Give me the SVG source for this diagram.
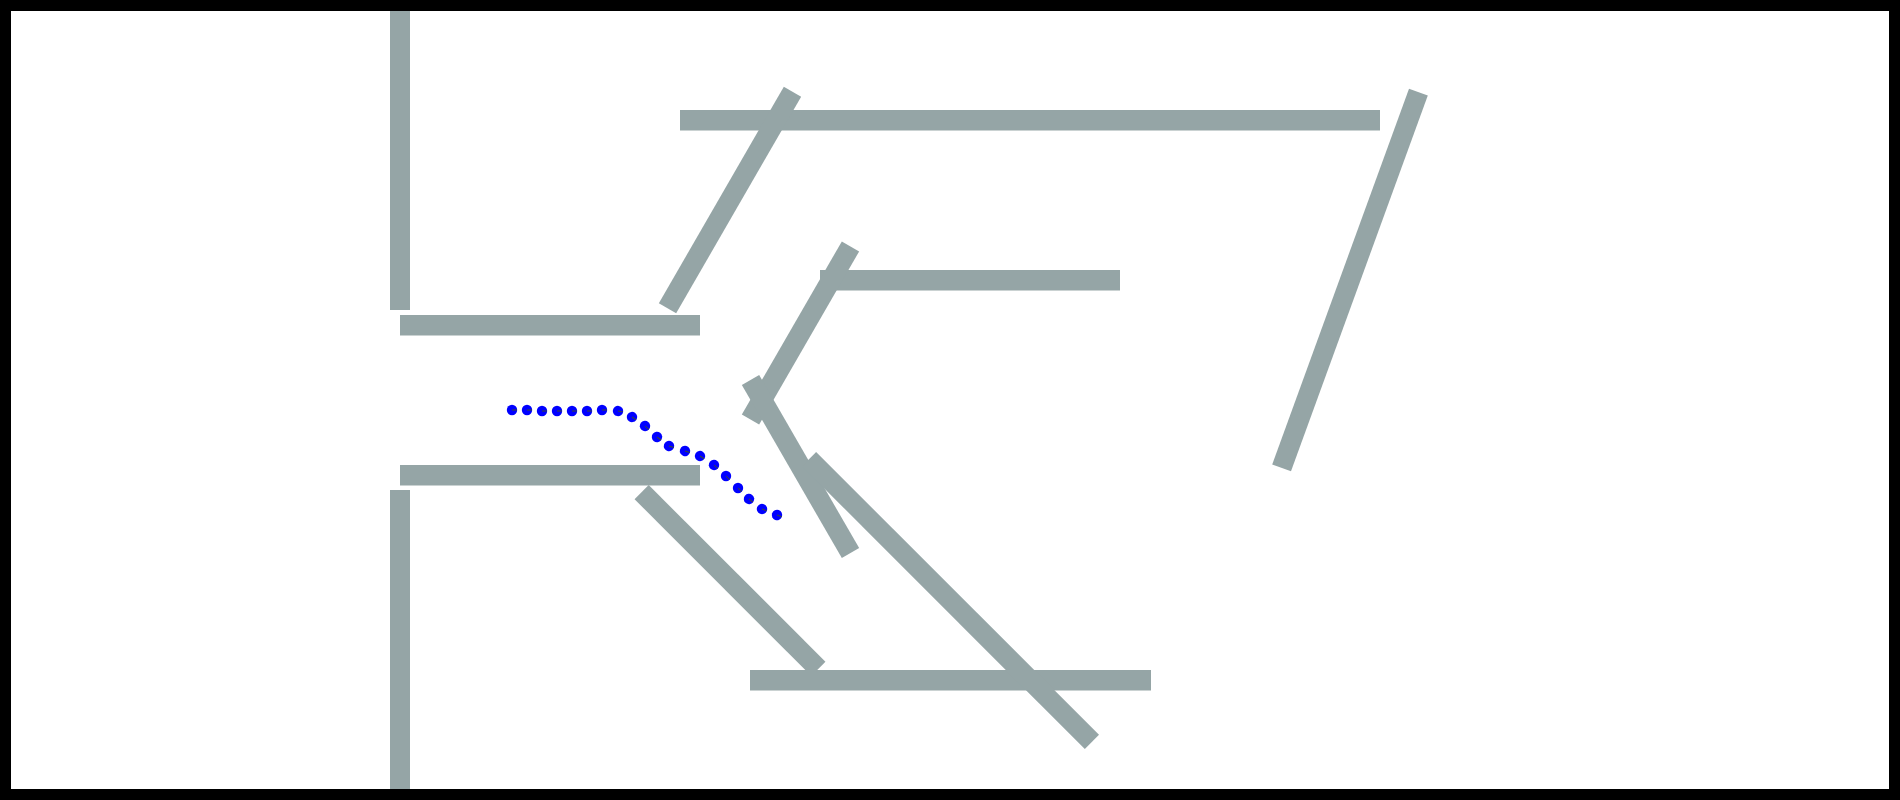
<svg xmlns="http://www.w3.org/2000/svg" width="1900" height="800" viewBox="0 0 1900 800">
  <style>
    .wall { fill: #95a5a6; }
    .pose { fill: #0000ff; }
    .head { stroke: #3a4a3a; stroke-width: 1; }
  </style>
  <defs>
    <g id="pose">
      <circle class="pose" cx="0" cy="0" r="5.2"/>
      <line class="head" x1="0" y1="0" x2="5" y2="0"/>
    </g>
  </defs>
  <rect id="frame" x="5.5" y="5.5" width="1889" height="789" fill="#ffffff" stroke="#000000" stroke-width="11"/>
  <g id="walls">
    <rect class="wall" x="390" y="11" width="20" height="299"/>
    <rect class="wall" x="390" y="490" width="20" height="299"/>
    <rect class="wall" x="400" y="315" width="300" height="20.5"/>
    <rect class="wall" x="400" y="465" width="300" height="20.5"/>
    <rect class="wall" x="680" y="110" width="700" height="20.5"/>
    <rect class="wall" x="820" y="270" width="300" height="20.5"/>
    <rect class="wall" x="750" y="670" width="401" height="20.5"/>
    <rect class="wall" x="-125" y="-10" width="250" height="20" transform="translate(730,200) rotate(-60)"/>
    <rect class="wall" x="-100" y="-10" width="200" height="20" transform="translate(800.5,333) rotate(-60)"/>
    <rect class="wall" x="-100" y="-10" width="200" height="20" transform="translate(800.5,466.5) rotate(60)"/>
    <rect class="wall" x="-200" y="-10" width="400" height="20" transform="translate(950.5,600.5) rotate(45)"/>
    <rect class="wall" x="-125" y="-10" width="250" height="20" transform="translate(730,580.5) rotate(45)"/>
    <rect class="wall" x="-200" y="-10" width="400" height="20" transform="translate(1350,280) rotate(-70)"/>
  </g>
  <g id="path">
    <use href="#pose" transform="translate(512,410)"/>
    <use href="#pose" transform="translate(527,410)"/>
    <use href="#pose" transform="translate(542,411)"/>
    <use href="#pose" transform="translate(557,411)"/>
    <use href="#pose" transform="translate(572,411)"/>
    <use href="#pose" transform="translate(587,411)"/>
    <use href="#pose" transform="translate(602,410)"/>
    <use href="#pose" transform="translate(618,411) rotate(10)"/>
    <use href="#pose" transform="translate(632,417) rotate(35)"/>
    <use href="#pose" transform="translate(645,426) rotate(42)"/>
    <use href="#pose" transform="translate(657,437) rotate(37)"/>
    <use href="#pose" transform="translate(669,446) rotate(17)"/>
    <use href="#pose" transform="translate(685,451) rotate(18)"/>
    <use href="#pose" transform="translate(700,456) rotate(33)"/>
    <use href="#pose" transform="translate(714,465) rotate(42)"/>
    <use href="#pose" transform="translate(726,476) rotate(45)"/>
    <use href="#pose" transform="translate(738,488) rotate(45)"/>
    <use href="#pose" transform="translate(749,499) rotate(38)"/>
    <use href="#pose" transform="translate(762,509) rotate(22)"/>
    <use href="#pose" transform="translate(777,515) rotate(20)"/>
  </g>
</svg>
